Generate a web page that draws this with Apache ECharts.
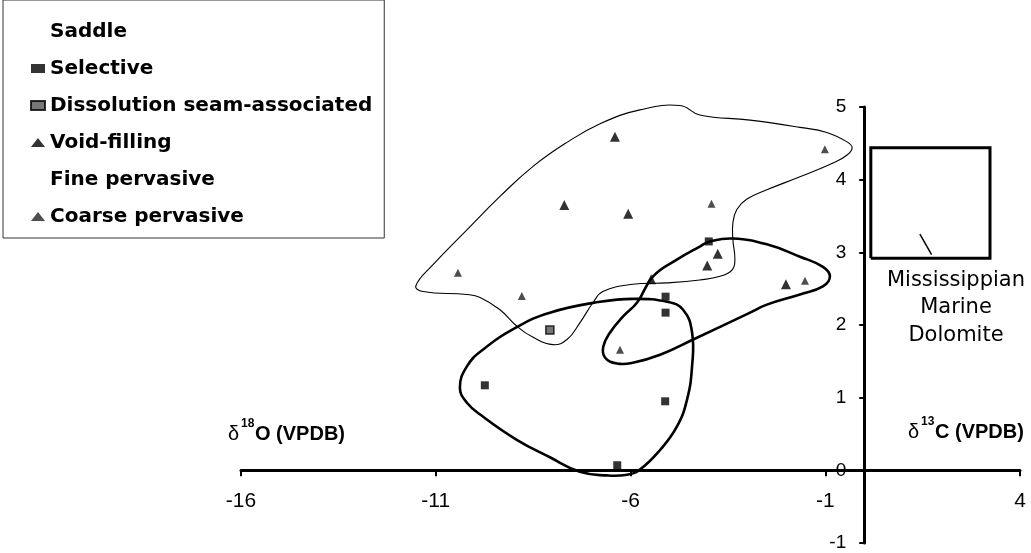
<!DOCTYPE html>
<html>
<head>
<meta charset="utf-8">
<script src="https://cdn.jsdelivr.net/npm/echarts/dist/echarts.min.js"></script>
<style>
  html, body { margin: 0; padding: 0; background: #fff; }
  #chart { width: 1031px; height: 553px; }
</style>
</head>
<body>
<div id="chart"></div>
<script>
// δ18O (x) / δ13C (y) isotope values, VPDB
const selective = [[-9.74, 1.17], [-5.10, 2.17], [-5.10, 2.39], [-5.11, 0.95], [-6.34, 0.07], [-3.99, 3.15]];
const dissolutionSeam = [[-8.07, 1.93]];
const voidFilling = [[-6.40, 4.59], [-7.70, 3.65], [-6.06, 3.53], [-5.47, 2.63], [-3.76, 2.98], [-4.03, 2.82], [-2.01, 2.56]];
const coarsePervasive = [[-1.01, 4.42], [-3.92, 3.67], [-10.43, 2.72], [-8.79, 2.40], [-1.52, 2.61], [-6.27, 1.66]];

// Legend entries (headers have no symbol)
const legendNames = ['Saddle', 'Selective', 'Dissolution seam-associated', 'Void-filling', 'Fine pervasive', 'Coarse pervasive'];

// Axis ranges
const xRange = [-16, 4];
const yRange = [-1, 5];

// Hand-drawn field envelopes, in data units
const coarseField = [
  [-11.51, 2.54], [-11.07, 2.83], [-10.20, 3.31], [-9.35, 3.77], [-8.51, 4.18], [-7.64, 4.51],
  [-6.78, 4.77], [-5.76, 4.96], [-4.73, 5.02], [-4.22, 4.89], [-2.93, 4.82], [-1.65, 4.72],
  [-0.96, 4.65], [-0.44, 4.52], [-0.31, 4.44], [-0.44, 4.34], [-0.80, 4.23], [-1.65, 4.04],
  [-2.50, 3.86], [-3.02, 3.73], [-3.27, 3.59], [-3.37, 3.41], [-3.37, 3.17], [-3.32, 2.90],
  [-3.39, 2.76], [-3.70, 2.67], [-4.22, 2.62], [-5.07, 2.58], [-5.94, 2.56], [-6.71, 2.46],
  [-6.96, 2.31], [-7.30, 2.03], [-7.63, 1.80], [-7.99, 1.73], [-8.50, 1.83], [-8.91, 1.98],
  [-9.35, 2.21], [-9.86, 2.38], [-10.20, 2.42], [-11.33, 2.46]
];
const selectiveField = [
  [-10.38, 1.14], [-10.20, 1.43], [-9.79, 1.66], [-8.92, 1.97], [-8.07, 2.17], [-6.78, 2.32],
  [-5.94, 2.36], [-5.06, 2.32], [-4.65, 2.21], [-4.42, 1.90], [-4.42, 1.43], [-4.55, 0.97],
  [-4.81, 0.60], [-5.24, 0.28], [-5.76, 0.01], [-6.09, -0.06], [-6.61, -0.07], [-7.30, -0.02],
  [-8.07, 0.18], [-8.92, 0.42], [-9.79, 0.74], [-10.20, 0.93]
];
const voidField = [
  [-6.70, 1.70], [-6.52, 1.90], [-6.19, 2.12], [-5.83, 2.31], [-5.42, 2.67], [-4.81, 2.90],
  [-4.22, 3.08], [-3.96, 3.15], [-3.37, 3.19], [-2.50, 3.11], [-1.65, 2.94], [-1.06, 2.80],
  [-0.88, 2.67], [-1.06, 2.53], [-1.65, 2.42], [-2.50, 2.28], [-2.93, 2.17], [-4.39, 1.80],
  [-5.24, 1.59], [-5.94, 1.48], [-6.35, 1.47], [-6.65, 1.55]
];

// Mississippian marine dolomite range box and its arrow
const marineBox = [[0.17, 2.92], [0.17, 4.44], [3.23, 4.44], [3.23, 2.92], [0.17, 2.92]];
const arrowTail = [1.73, 2.97];
const arrowHead = [1.43, 3.25];
const boxLabel = ['Mississippian', 'Marine', 'Dolomite'];

const FONT = 'DejaVu Sans';
const HELV = 'Liberation Sans';

// Plot area
const W = 1031, H = 553;
const grid = { left: 241, right: 11, top: 107, bottom: 10 };
const gridW = W - grid.left - grid.right;
const gridH = H - grid.top - grid.bottom;
// Axes cross at the origin: shift each axis from the grid edge to zero of the other axis
const xAxisShift = -gridH * (0 - yRange[0]) / (yRange[1] - yRange[0]);
const yAxisShift = -gridW * (0 - xRange[0]) / (xRange[1] - xRange[0]);

function envelope(points, width) {
  return {
    type: 'custom',
    silent: true,
    clip: false,
    z: 1,
    data: points,
    encode: { x: 0, y: 1 },
    renderItem: function (params, api) {
      if (params.dataIndex !== 0) return null;
      return {
        type: 'polygon',
        shape: { points: points.map(function (p) { return api.coord(p); }), smooth: 0.45 },
        style: { fill: 'none', stroke: '#000', lineWidth: width }
      };
    }
  };
}

const chart = echarts.init(document.getElementById('chart'), null, { renderer: 'canvas' });

function txt(o) { return Object.assign({ fill: '#000' }, o); }

chart.setOption({
  animation: false,
  backgroundColor: '#fff',
  grid: Object.assign({ containLabel: false, outerBoundsMode: 'none' }, grid),
  xAxis: {
    type: 'value', min: xRange[0], max: xRange[1], interval: 5,
    position: 'bottom', offset: xAxisShift,
    axisLine: { show: true, onZero: false, lineStyle: { color: '#000', width: 3 } },
    axisTick: { show: true, length: 6, lineStyle: { color: '#000', width: 2 } },
    axisLabel: { color: '#000', fontFamily: HELV, fontSize: 21, margin: 20, hideOverlap: false },
    splitLine: { show: false }
  },
  yAxis: {
    type: 'value', min: yRange[0], max: yRange[1], interval: 1,
    position: 'left', offset: yAxisShift,
    axisLine: { show: true, onZero: false, lineStyle: { color: '#000', width: 3 } },
    axisTick: { show: true, length: 5, lineStyle: { color: '#000', width: 2 } },
    axisLabel: { color: '#000', fontFamily: HELV, fontSize: 19, margin: 18, hideOverlap: false },
    splitLine: { show: false }
  },
  legend: {
    orient: 'vertical', left: 3, top: 0,
    selectedMode: false,
    itemWidth: 14, itemHeight: 9, itemGap: 12,
    padding: [19, 12, 9, 27],
    borderColor: '#333', borderWidth: 1,
    textStyle: { fontFamily: FONT, fontWeight: 'bold', fontSize: 20, color: '#000', lineHeight: 25 },
    data: [
      { name: legendNames[0], icon: 'none' },
      { name: legendNames[1], icon: 'rect' },
      { name: legendNames[2], icon: 'rect' },
      { name: legendNames[3], icon: 'triangle' },
      { name: legendNames[4], icon: 'none' },
      { name: legendNames[5], icon: 'triangle' }
    ]
  },
  series: [
    envelope(coarseField, 1.1),
    envelope(selectiveField, 2.6),
    envelope(voidField, 2.6),
    {
      type: 'line', silent: true, z: 1, data: marineBox, symbol: 'none',
      lineStyle: { color: '#000', width: 3, join: 'miter' },
      markLine: {
        silent: true, symbol: ['none', 'arrow'], symbolSize: [0, 7],
        lineStyle: { color: '#000', width: 1.5, type: 'solid' },
        label: { show: false },
        data: [[{ coord: arrowTail }, { coord: arrowHead }]]
      }
    },
    { name: legendNames[0], type: 'scatter', data: [], itemStyle: { color: 'rgba(0,0,0,0)' } },
    { name: legendNames[1], type: 'scatter', data: selective, symbol: 'rect', symbolSize: 8, itemStyle: { color: '#000' }, z: 3 },
    { name: legendNames[2], type: 'scatter', data: dissolutionSeam, symbol: 'rect', symbolSize: 8, itemStyle: { color: '#555', borderColor: '#000', borderWidth: 1.5 }, z: 3 },
    { name: legendNames[3], type: 'scatter', data: voidFilling, symbol: 'triangle', symbolSize: 10, itemStyle: { color: '#000' }, z: 3 },
    { name: legendNames[4], type: 'scatter', data: [], itemStyle: { color: 'rgba(0,0,0,0)' } },
    { name: legendNames[5], type: 'scatter', data: coarsePervasive, symbol: 'triangle', symbolSize: 8, itemStyle: { color: '#222' }, z: 3 }
  ],
  graphic: [
    { type: 'text', left: 228, top: 424, style: txt({ text: 'δ', fontSize: 20, fontFamily: HELV }) },
    { type: 'text', left: 241, top: 418, style: txt({ text: '18', fontSize: 12, fontWeight: 'bold', fontFamily: HELV }) },
    { type: 'text', left: 255, top: 424, style: txt({ text: 'O (VPDB)', fontSize: 20, fontWeight: 'bold', fontFamily: HELV }) },
    { type: 'text', left: 908, top: 422, style: txt({ text: 'δ', fontSize: 20, fontFamily: HELV }) },
    { type: 'text', left: 921, top: 416, style: txt({ text: '13', fontSize: 12, fontWeight: 'bold', fontFamily: HELV }) },
    { type: 'text', left: 935, top: 422, style: txt({ text: 'C (VPDB)', fontSize: 20, fontWeight: 'bold', fontFamily: HELV }) },
    { type: 'text', x: 956, y: 281, style: txt({ text: boxLabel[0], fontSize: 21, fontFamily: FONT, align: 'center', verticalAlign: 'middle' }) },
    { type: 'text', x: 956, y: 308, style: txt({ text: boxLabel[1], fontSize: 21, fontFamily: FONT, align: 'center', verticalAlign: 'middle' }) },
    { type: 'text', x: 956, y: 336, style: txt({ text: boxLabel[2], fontSize: 21, fontFamily: FONT, align: 'center', verticalAlign: 'middle' }) }
  ]
});
</script>
</body>
</html>
